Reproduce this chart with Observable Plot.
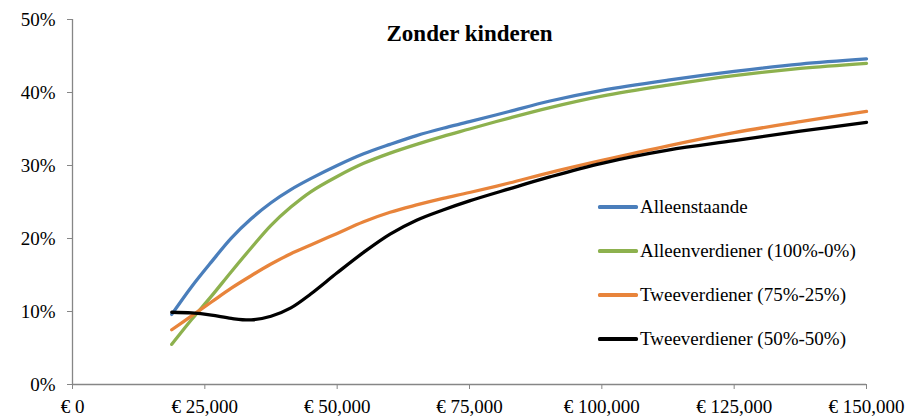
<!DOCTYPE html>
<html>
<head>
<meta charset="utf-8">
<script src="https://cdn.jsdelivr.net/npm/d3@7"></script>
<script src="https://cdn.jsdelivr.net/npm/@observablehq/plot@0.6"></script>
<style>
  html, body { margin: 0; padding: 0; background: #fff; }
  #wrap { position: relative; width: 906px; height: 420px; font-family: 'Liberation Serif', 'Times New Roman', serif; }
  #legend { position: absolute; left: 598px; top: 185px; font-size: 19px; color: #000; }
  #legend .item { display: flex; align-items: center; height: 44px; }
  #legend .sw { width: 40px; height: 3.2px; border-radius: 1.6px; margin-right: 2px; }
</style>
</head>
<body>
<div id="wrap"></div>
<script>
const title = "Zonder kinderen";
const incomes = [18750, 22500, 26250, 30000, 33750, 37500, 41250, 45000, 50000, 55000, 60000, 65000, 70000, 75000, 82500, 90000, 100000, 112500, 125000, 137500, 150000];
const seriesNames = ["Alleenstaande", "Alleenverdiener (100%-0%)", "Tweeverdiener (75%-25%)", "Tweeverdiener (50%-50%)"];
const alleenstaande   = [9.6, 13.4, 16.8, 20.05, 22.7, 24.9, 26.7, 28.2, 30.0, 31.6, 32.9, 34.1, 35.1, 36.0, 37.4, 38.8, 40.3, 41.7, 42.9, 43.9, 44.6];
const alleenverdiener = [5.5, 8.9, 12.1, 15.45, 18.7, 21.8, 24.3, 26.4, 28.5, 30.3, 31.7, 32.9, 34.0, 35.0, 36.5, 37.9, 39.5, 41.0, 42.3, 43.3, 44.0];
const twee7525        = [7.5, 9.4, 11.3, 13.2, 14.9, 16.5, 17.9, 19.1, 20.7, 22.3, 23.6, 24.6, 25.5, 26.3, 27.6, 29.0, 30.7, 32.7, 34.5, 36.0, 37.4];
const twee5050        = [9.9, 9.8, 9.5, 9.05, 8.85, 9.35, 10.5, 12.4, 15.3, 18.1, 20.6, 22.5, 23.9, 25.15, 26.8, 28.4, 30.3, 32.1, 33.4, 34.7, 35.9];
const colors = ["#4A7EBB", "#8DB14E", "#E8843B", "#000000"];
const xTicks = [0, 25000, 50000, 75000, 100000, 125000, 150000];
const yTicks = [0, 10, 20, 30, 40, 50];

const allSeries = [alleenstaande, alleenverdiener, twee7525, twee5050];
const data = [];
allSeries.forEach((vals, i) => vals.forEach((v, j) => data.push({series: seriesNames[i], income: incomes[j], rate: v})));

const axisGray = "#868686";
const fmtX = d => "€ " + (d === 0 ? "0" : d3.format(",")(d));
const fontStack = "'Liberation Serif', 'Times New Roman', serif";

const chart = Plot.plot({
  width: 906,
  height: 420,
  marginLeft: 72,
  marginRight: 40,
  marginTop: 19,
  marginBottom: 36,
  style: {fontFamily: fontStack, fontSize: "19px", background: "#fff", color: "#000"},
  x: {domain: [0, 150000]},
  y: {domain: [0, 50]},
  color: {domain: seriesNames, range: colors},
  marks: [
    Plot.axisY({ticks: yTicks, tickFormat: d => d + "%", tickSize: 5, tickPadding: 12, stroke: axisGray, fill: "#000", label: null}),
    Plot.axisX({ticks: xTicks, tickFormat: fmtX, tickSize: 5, tickPadding: 10, stroke: axisGray, fill: "#000", label: null}),
    Plot.ruleX([0], {stroke: axisGray, strokeWidth: 1.3}),
    Plot.ruleY([0], {stroke: axisGray, strokeWidth: 1.3}),
    Plot.line(data, {x: "income", y: "rate", z: "series", stroke: "series", strokeWidth: 3.3, curve: "catmull-rom"}),
    Plot.text([title], {frameAnchor: "top", dy: 14, lineAnchor: "middle", fontSize: 23, fontWeight: "bold", fill: "#000", text: d => d})
  ]
});

const wrap = document.getElementById("wrap");
wrap.appendChild(chart);
const legend = document.createElement("div");
legend.id = "legend";
seriesNames.forEach((name, i) => {
  const item = document.createElement("div");
  item.className = "item";
  const sw = document.createElement("span");
  sw.className = "sw";
  sw.style.background = colors[i];
  const label = document.createElement("span");
  label.textContent = name;
  item.appendChild(sw);
  item.appendChild(label);
  legend.appendChild(item);
});
wrap.appendChild(legend);
</script>
</body>
</html>
